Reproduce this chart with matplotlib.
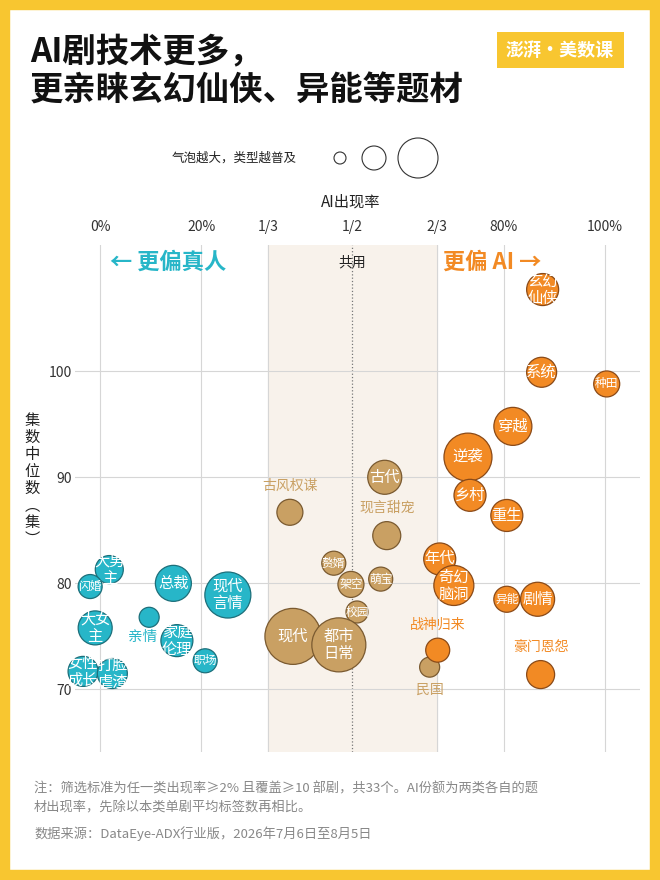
import matplotlib.pyplot as plt
from matplotlib.patches import Rectangle, Ellipse
import numpy as np

plt.rcParams['font.family'] = ['Noto Sans CJK SC', 'DejaVu Sans']

# AI share (%), median episodes, bubble radius (px-ish), label mode
blue_names = ['大男\n主', '闪婚', '总裁', '现代\n言情', '亲情', '大女\n主', '家庭\n伦理', '职场', '女性\n成长', '打脸\n虐渣']
blue_x = [1.8, -2, 14.5, 25.3, 9.7, -1, 15.2, 20.8, -3.4, 2.4]
blue_y = [81.3, 79.7, 80, 78.9, 76.8, 75.8, 74.6, 72.7, 71.7, 71.5]
blue_r = [14, 12, 18, 23, 10, 17, 16, 12, 15, 15]

tan_names = ['古风权谋', '古代', '现言甜宠', '赘婿', '架空', '萌宝', '校园', '现代', '都市\n日常', '民国']
tan_x = [37.6, 56.4, 56.8, 46.3, 49.7, 55.6, 50.9, 38.2, 47.3, 65.3]
tan_y = [86.7, 90, 84.5, 81.9, 79.9, 80.4, 77.3, 75, 74.2, 72.1]
tan_r = [13, 17, 14, 12, 13, 12, 11, 28, 27, 10]

org_names = ['玄幻\n仙侠', '系统', '种田', '穿越', '逆袭', '乡村', '重生', '年代', '奇幻\n脑洞', '异能', '剧情', '战神归来', '豪门恩怨']
org_x = [87.7, 87.5, 100.4, 81.8, 72.9, 73.3, 80.6, 67.3, 70.1, 80.6, 86.7, 66.9, 87.3]
org_y = [107.7, 99.9, 98.8, 94.8, 91.9, 88.3, 86.4, 82.3, 79.8, 78.5, 78.5, 73.7, 71.4]
org_r = [16, 15, 13, 19, 24, 16, 16, 16, 20, 13, 17, 12, 14]

outside_above = ['古风权谋', '现言甜宠', '战神归来', '豪门恩怨']
outside_below = ['民国']
outside_left = ['亲情']

xticks = [0, 20, 100/3, 50, 200/3, 80, 100]
xticklabels = ['0%', '20%', '1/3', '1/2', '2/3', '80%', '100%']
yticks = [70, 80, 90, 100]

BLUE, TAN, ORG = '#27b6c8', '#c9a063', '#f28a24'
EDGE = {BLUE: '#1d6f7a', TAN: '#7a5a30', ORG: '#8a4a18'}

fig = plt.figure(figsize=(6.6, 8.8), dpi=100)
fig.patch.set_facecolor('white')
fig.patches.append(Rectangle((5/660, 5/880), 650/660, 870/880, transform=fig.transFigure,
                             facecolor='none', edgecolor='#f8c630', lw=7.5, zorder=-1))

ax = fig.add_axes([75/660, 128/880, 565/660, 507/880])
ax.set_facecolor('none')
ax.set_xlim(-5, 107)
ax.set_ylim(64.1, 111.9)
ax.axvspan(100/3, 200/3, color='#f8f2eb', zorder=0)
for xv in xticks:
    if xv != 50:
        ax.axvline(xv, color='#d6d6d6', lw=0.8, zorder=1)
ax.axvline(50, color='#777777', lw=0.9, ls=':', zorder=1)
for yv in yticks:
    ax.axhline(yv, color='#d6d6d6', lw=0.8, zorder=1)
for s in ax.spines.values():
    s.set_visible(False)
ax.xaxis.tick_top()
ax.set_xticks(xticks)
ax.set_xticklabels(xticklabels, fontsize=10, color='#333333')
ax.set_yticks(yticks)
ax.set_yticklabels([str(v) for v in yticks], fontsize=10, color='#333333')
ax.tick_params(length=0, pad=8)
ax.tick_params(axis='y', pad=2)

def draw(names, xs, ys, rs, color):
    s = [(1.44 * r) ** 2 for r in rs]
    ax.scatter(xs, ys, s=s, color=color, edgecolor=EDGE[color], linewidth=0.9, zorder=3, clip_on=False)
    for n, x, y, r in zip(names, xs, ys, rs):
        if n in outside_above:
            ax.annotate(n, (x, y), xytext=(0, 1.44 * r / 2 + 10), textcoords='offset points',
                        ha='center', va='center', fontsize=10, color=color, zorder=4)
        elif n in outside_below:
            ax.annotate(n, (x, y), xytext=(0, -1.44 * r / 2 - 9), textcoords='offset points',
                        ha='center', va='center', fontsize=10, color=color, zorder=4)
        elif n in outside_left:
            ax.annotate(n, (x, y), xytext=(-5, -14), textcoords='offset points',
                        ha='center', va='center', fontsize=10.5, color=color, zorder=4)
        else:
            fs = 11 if r >= 14 else 8.5
            ax.text(x, y, n, ha='center', va='center', fontsize=fs, color='white',
                    fontweight='medium', linespacing=1.0, zorder=4)

draw(blue_names, blue_x, blue_y, blue_r, BLUE)
draw(tan_names, tan_x, tan_y, tan_r, TAN)
draw(org_names, org_x, org_y, org_r, ORG)

ax.text(2, 110.3, '← 更偏真人', color=BLUE, fontsize=16, fontweight='bold', va='center')
ax.text(50, 110.3, '共用', color='#222222', fontsize=10, ha='center', va='center')
ax.text(68, 110.3, '更偏 AI →', color=ORG, fontsize=16, fontweight='bold', va='center')

fig.text(30/660, 1 - 72/880, 'AI剧技术更多，\n更亲睐玄幻仙侠、异能等题材', fontsize=24, fontweight='bold',
         va='center', color='#111111', linespacing=1.2)
fig.patches.append(Rectangle((497/660, 1 - 68/880), 127/660, 36/880, transform=fig.transFigure,
                             facecolor='#f8c630', edgecolor='none'))
fig.text(560/660, 1 - 50/880, '澎湃·美数课', fontsize=13, fontweight='bold', color='white',
         ha='center', va='center')

fig.text(172/660, 1 - 158/880, '气泡越大，类型越普及', fontsize=9, color='#222222', va='center')
for cx, r in [(340, 6), (374, 12), (418, 20)]:
    fig.patches.append(Ellipse((cx / 660, 1 - 158 / 880), 2 * r / 660, 2 * r / 880,
                               transform=fig.transFigure, facecolor='white',
                               edgecolor='#333333', lw=0.8))
fig.text(351/660, 1 - 202/880, 'AI出现率', fontsize=11, color='#222222', ha='center', va='center')
fig.text(32/660, 1 - 480/880, '集\n数\n中\n位\n数\n︵\n集\n︶', fontsize=11, color='#222222',
         ha='center', va='center', linespacing=1.0)

fig.text(34/660, 1 - 798/880, '注：筛选标准为任一类出现率≥2% 且覆盖≥10 部剧，共33个。AI份额为两类各自的题\n材出现率，先除以本类单剧平均标签数再相比。',
         fontsize=9.5, color='#888888', va='center', linespacing=1.6)
fig.text(34/660, 1 - 834/880, '数据来源：DataEye-ADX行业版，2026年7月6日至8月5日', fontsize=9.5,
         color='#888888', va='center')

fig.savefig('out.png', dpi=100)
